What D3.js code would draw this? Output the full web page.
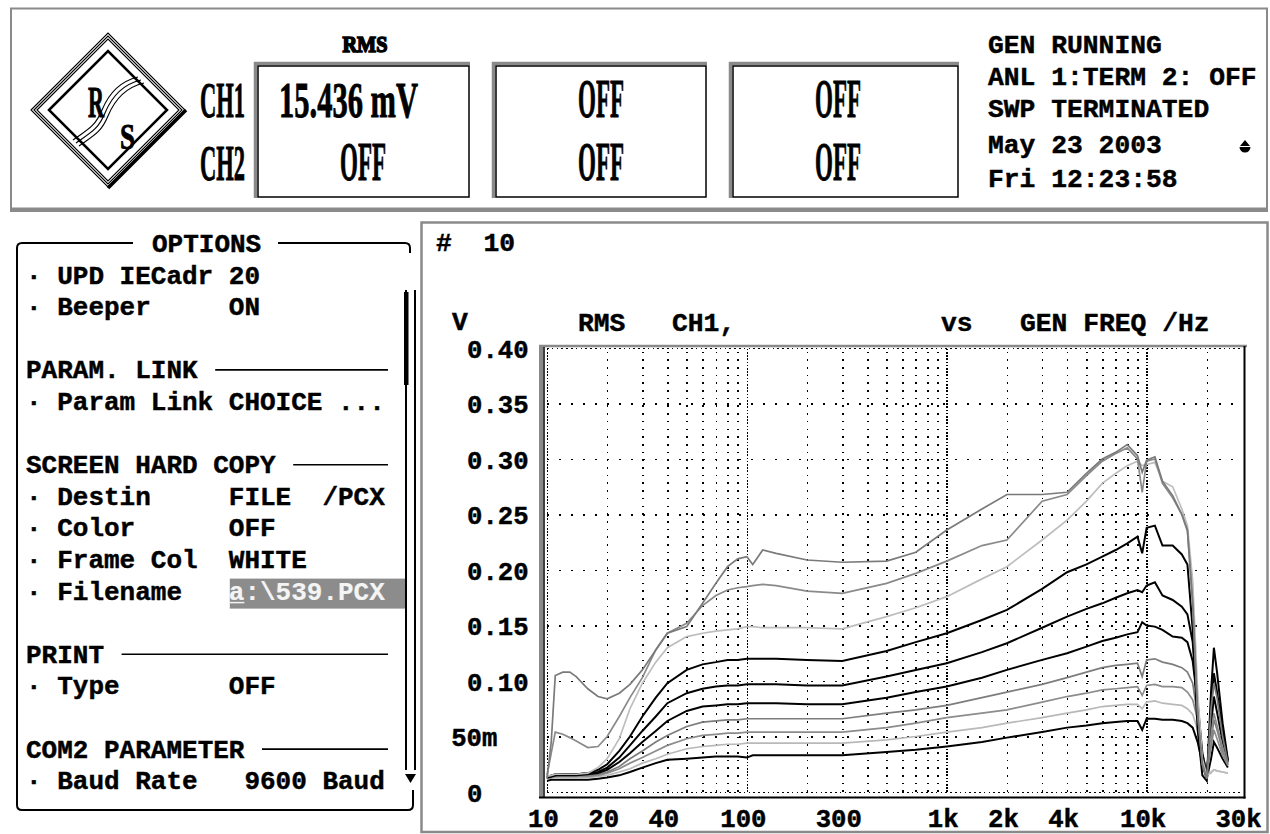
<!DOCTYPE html>
<html>
<head>
<meta charset="utf-8">
<script src="https://cdn.jsdelivr.net/npm/d3@7"></script>
<style>
  html, body { margin: 0; padding: 0; background: #fff; }
  svg { display: block; }
  text { white-space: pre; }
</style>
</head>
<body>
<svg id="screen" width="1270" height="834"></svg>
<script>
// ---------------------------------------------------------------------------
// Sweep data: RMS level of CH1 (V) against generator frequency (Hz),
// ten sweeps at increasing generator level.
// ---------------------------------------------------------------------------
const freqHz = [10, 10.5, 11, 12, 13, 14, 16, 18, 20,
  23, 26, 30, 35, 40, 50, 60, 70, 80, 90,
  100, 107, 120, 140, 200, 300,
  500, 700, 1000, 1500, 2000,
  3000, 4000, 5000, 6000, 7000, 8000, 9000, 9500,
  10000, 11000, 12000, 13500, 15000, 16000, 17000,
  18000, 19000, 20000, 21000, 21700, 22500, 24000, 25500];

const sweep1 = [0.010, 0.011, 0.011, 0.011, 0.011, 0.011, 0.011, 0.012, 0.013,
  0.015, 0.018, 0.022, 0.026, 0.029, 0.030, 0.031, 0.032, 0.032, 0.032,
  0.031, 0.033, 0.033, 0.033, 0.033, 0.033,
  0.036, 0.038, 0.041, 0.045, 0.049,
  0.054, 0.058, 0.060, 0.062, 0.063, 0.064, 0.064, 0.056,
  0.066, 0.066, 0.065, 0.065, 0.064, 0.062, 0.058,
  0.045, 0.026, 0.012, 0.030, 0.045, 0.040, 0.030, 0.022];

const sweep2 = [0.012, 0.013, 0.013, 0.013, 0.013, 0.013, 0.013, 0.014, 0.015,
  0.018, 0.021, 0.026, 0.030, 0.034, 0.039, 0.041, 0.042, 0.043, 0.043,
  0.044, 0.044, 0.044, 0.044, 0.044, 0.044,
  0.047, 0.050, 0.054, 0.058, 0.062,
  0.067, 0.071, 0.074, 0.077, 0.078, 0.079, 0.079, 0.075,
  0.081, 0.082, 0.080, 0.079, 0.078, 0.075, 0.070,
  0.056, 0.030, 0.017, 0.018, 0.020, 0.019, 0.018, 0.017];

const sweep3 = [0.012, 0.013, 0.014, 0.014, 0.014, 0.014, 0.014, 0.015, 0.017,
  0.021, 0.026, 0.031, 0.037, 0.042, 0.048, 0.051, 0.052, 0.053, 0.053,
  0.054, 0.054, 0.054, 0.054, 0.054, 0.054,
  0.058, 0.062, 0.067, 0.071, 0.074,
  0.081, 0.086, 0.089, 0.092, 0.093, 0.094, 0.095, 0.087,
  0.096, 0.097, 0.095, 0.095, 0.094, 0.090, 0.083,
  0.065, 0.035, 0.018, 0.040, 0.056, 0.048, 0.033, 0.024];

const sweep4 = [0.013, 0.014, 0.014, 0.015, 0.015, 0.015, 0.015, 0.016, 0.018,
  0.023, 0.030, 0.037, 0.045, 0.051, 0.059, 0.063, 0.064, 0.065, 0.065,
  0.066, 0.066, 0.066, 0.066, 0.066, 0.066,
  0.071, 0.074, 0.078, 0.085, 0.090,
  0.097, 0.103, 0.108, 0.112, 0.114, 0.115, 0.116, 0.104,
  0.119, 0.120, 0.117, 0.115, 0.112, 0.108, 0.098,
  0.068, 0.035, 0.018, 0.045, 0.065, 0.056, 0.037, 0.025];

const sweep5 = [0.013, 0.014, 0.015, 0.015, 0.015, 0.015, 0.016, 0.017, 0.020,
  0.027, 0.035, 0.045, 0.055, 0.064, 0.073, 0.077, 0.078, 0.079, 0.079,
  0.080, 0.080, 0.080, 0.080, 0.079, 0.079,
  0.085, 0.090, 0.095, 0.103, 0.110,
  0.119, 0.125, 0.131, 0.136, 0.139, 0.142, 0.144, 0.153,
  0.150, 0.149, 0.146, 0.140, 0.139, 0.135, 0.118,
  0.080, 0.035, 0.015, 0.060, 0.086, 0.072, 0.045, 0.027];

const sweep6 = [0.013, 0.014, 0.015, 0.016, 0.016, 0.016, 0.017, 0.018, 0.022,
  0.031, 0.042, 0.055, 0.068, 0.080, 0.089, 0.093, 0.095, 0.096, 0.096,
  0.097, 0.097, 0.097, 0.097, 0.096, 0.096,
  0.104, 0.110, 0.116, 0.126, 0.134,
  0.148, 0.158, 0.165, 0.170, 0.175, 0.179, 0.182, 0.180,
  0.186, 0.189, 0.177, 0.173, 0.167, 0.160, 0.135,
  0.075, 0.025, 0.012, 0.075, 0.107, 0.090, 0.055, 0.028];

const sweep7 = [0.013, 0.015, 0.016, 0.016, 0.016, 0.016, 0.017, 0.020, 0.025,
  0.037, 0.050, 0.068, 0.085, 0.098, 0.110, 0.115, 0.117, 0.119, 0.119,
  0.120, 0.120, 0.120, 0.120, 0.119, 0.118,
  0.127, 0.135, 0.143, 0.155, 0.164,
  0.183, 0.198, 0.205, 0.212, 0.218, 0.224, 0.230, 0.215,
  0.238, 0.240, 0.222, 0.222, 0.214, 0.205, 0.146,
  0.056, 0.015, 0.010, 0.090, 0.130, 0.108, 0.062, 0.029];

const sweep8 = [0.014, 0.015, 0.016, 0.016, 0.016, 0.016, 0.017, 0.022, 0.030,
  0.048, 0.075, 0.098, 0.117, 0.130, 0.140, 0.143, 0.145, 0.146, 0.147,
  0.149, 0.149, 0.148, 0.148, 0.148, 0.147,
  0.158, 0.166, 0.176, 0.192, 0.203,
  0.227, 0.245, 0.262, 0.278, 0.287, 0.294, 0.298, 0.294,
  0.295, 0.297, 0.280, 0.275, 0.255, 0.240, 0.190,
  0.090, 0.030, 0.015, 0.017, 0.020, 0.019, 0.018, 0.017];

const sweep9 = [0.015, 0.035, 0.054, 0.052, 0.049, 0.046, 0.040, 0.041, 0.050,
  0.068, 0.085, 0.103, 0.128, 0.143, 0.152, 0.168, 0.177, 0.182, 0.184,
  0.185, 0.186, 0.187, 0.186, 0.181, 0.179,
  0.188, 0.197, 0.208, 0.222, 0.227,
  0.262, 0.268, 0.285, 0.298, 0.305, 0.310, 0.300, 0.270,
  0.298, 0.300, 0.278, 0.265, 0.250, 0.235, 0.170,
  0.070, 0.025, 0.012, 0.050, 0.071, 0.060, 0.040, 0.024];

const sweep10 = [0.012, 0.045, 0.105, 0.108, 0.108, 0.104, 0.093, 0.086, 0.084,
  0.089, 0.097, 0.110, 0.128, 0.143, 0.149, 0.170, 0.188, 0.203, 0.210,
  0.212, 0.205, 0.218, 0.215, 0.209, 0.207,
  0.208, 0.216, 0.236, 0.255, 0.268,
  0.268, 0.270, 0.287, 0.300, 0.306, 0.313, 0.303, 0.288,
  0.299, 0.302, 0.280, 0.267, 0.250, 0.236, 0.170,
  0.070, 0.025, 0.012, 0.075, 0.098, 0.085, 0.050, 0.026];

const sweeps = [sweep1, sweep2, sweep3, sweep4, sweep5, sweep6, sweep7, sweep8, sweep9, sweep10];

// trace shades (monochrome hard copy)
const sweepShade = ["#000000", "#b9b9b9", "#8c8c8c", "#7d7d7d", "#000000",
                    "#000000", "#000000", "#bdbdbd", "#8a8a8a", "#7a7a7a"];

// axis ticks
const yTickValues = [0, 0.05, 0.10, 0.15, 0.20, 0.25, 0.30, 0.35, 0.40];
const yTickLabels = ["0", "50m", "0.10", "0.15", "0.20", "0.25", "0.30", "0.35", "0.40"];
const xTickValues = [10, 20, 40, 100, 300, 1000, 2000, 4000, 10000, 30000];
const xTickLabels = ["10", "20", "40", "100", "300", "1k", "2k", "4k", "10k", "30k"];

// header readouts
const channelNames = ["CH1", "CH2"];
const ch1Readings = ["15.436 mV", "OFF", "OFF"];
const ch2Readings = ["OFF", "OFF", "OFF"];
const statusLines = ["GEN RUNNING", "ANL 1:TERM 2: OFF", "SWP TERMINATED"];
const clockLines = ["May 23 2003", "Fri 12:23:58"];

// OPTIONS menu (one entry per text row; null = empty row)
const menuRows = [
  { title: "OPTIONS" },
  { label: "UPD IECadr", value: "20" },
  { label: "Beeper", value: "ON" },
  null,
  { section: "PARAM. LINK" },
  { label: "Param Link", value: "CHOICE ..." },
  null,
  { section: "SCREEN HARD COPY" },
  { label: "Destin", value: "FILE  /PCX" },
  { label: "Color", value: "OFF" },
  { label: "Frame Col", value: "WHITE" },
  { label: "Filename", value: "a:\\539.PCX", edit: true },
  null,
  { section: "PRINT" },
  { label: "Type", value: "OFF" },
  null,
  { section: "COM2 PARAMETER" },
  { label: "Baud Rate", value: " 9600 Baud" }
];

// ---------------------------------------------------------------------------
const svg = d3.select("#screen");
const MONO = '"Liberation Mono", "DejaVu Sans Mono", monospace';
const SERIF = '"Liberation Serif", "DejaVu Serif", serif';
const GREY = "#8a8a8a";

function mono(g, x, y, str, cw, anchor) {
  return g.append("text")
    .attr("x", x).attr("y", y)
    .attr("font-family", MONO).attr("font-weight", "bold")
    .attr("font-size", cw / 0.6)
    .attr("text-anchor", anchor || "start")
    .attr("fill", "#000").attr("stroke", "#000").attr("stroke-width", 0.45)
    .text(str);
}

// tall, narrow readout lettering: natural width is measured, then squeezed
function tall(g, x, y, str, width, size, anchor, weight) {
  const t = g.append("text")
    .attr("font-family", SERIF).attr("font-weight", "bold")
    .attr("font-size", size)
    .attr("fill", "#000").attr("stroke", "#000").attr("stroke-width", weight || 0.9)
    .text(str);
  const natural = t.node().getComputedTextLength();
  const x0 = anchor === "middle" ? x - width / 2 : x;
  t.attr("transform", `translate(${x0},${y}) scale(${width / natural},1)`);
  return t;
}

// ---------------------------------------------------------------- header ----
const head = svg.append("g");
head.append("rect").attr("x", 11).attr("y", 8.5).attr("width", 1256).attr("height", 200)
  .attr("fill", "none").attr("stroke", GREY).attr("stroke-width", 2);
head.append("line").attr("x1", 10).attr("x2", 1268).attr("y1", 210).attr("y2", 210)
  .attr("stroke", GREY).attr("stroke-width", 4);

// R&S diamond
const lg = head.append("g");
const cx = 108, cy = 110;
const diamond = r => `M${cx - r},${cy} L${cx},${cy - r} L${cx + r},${cy} L${cx},${cy + r} Z`;
[77, 74, 71].forEach(r => lg.append("path").attr("d", diamond(r))
  .attr("fill", "none").attr("stroke", "#000").attr("stroke-width", 1.1));
lg.append("line").attr("x1", cx + 78).attr("y1", cy).attr("x2", cx).attr("y2", cy + 78)
  .attr("stroke", "#000").attr("stroke-width", 3.5);
lg.append("path").attr("d", diamond(59)).attr("fill", "none")
  .attr("stroke", "#000").attr("stroke-width", 2.5);
[-3, 0, 3].forEach(o => lg.append("path")
  .attr("d", `M${76 + o},${143 + o} C${90 + o},${133 + o} ${98 + o},${130 + o} ${105 + o},${113 + o} S${124 + o},${84 + o} ${141 + o},${80 + o}`)
  .attr("fill", "none").attr("stroke", "#000").attr("stroke-width", 1.1));
tall(lg, 88, 117, "R", 16, 45);
tall(lg, 120, 149, "S", 15, 36);

// readout boxes
const boxes = [{ x: 257, w: 212 }, { x: 495, w: 211 }, { x: 732, w: 226 }];
tall(head, 365, 52, "RMS", 45, 23, "middle", 1.6);
channelNames.forEach((c, i) => tall(head, 200, 117 + i * 63, c, 45, 51));
boxes.forEach((b, i) => {
  head.append("path")
    .attr("d", `M${b.x - 1.5},198 V${63.5} H${b.x + b.w + 1}`)
    .attr("fill", "none").attr("stroke", GREY).attr("stroke-width", 3.5);
  head.append("rect").attr("x", b.x + 1).attr("y", 66).attr("width", b.w - 1).attr("height", 131)
    .attr("fill", "#fff").attr("stroke", "#000").attr("stroke-width", 1.5);
  const v1 = ch1Readings[i];
  if (v1 === "OFF") tall(head, b.x + 106, 117, v1, 46, 55, "middle");
  else tall(head, 279, 117, v1, 139, 51);
  tall(head, b.x + 106, 180, ch2Readings[i], 46, 55, "middle");
});

statusLines.forEach((s, i) => mono(head, 988, 53 + i * 32, s, 15.8));
clockLines.forEach((s, i) => mono(head, 988, 153 + i * 34, s, 15.8));
head.append("path").attr("d", "M1240,146 L1245,140 L1250,146 Z M1239.5,147 A5.5,5.5 0 0 0 1250.5,147 Z")
  .attr("fill", "#000");

// ---------------------------------------------------------- options menu ----
const menu = svg.append("g");
const cw = 15.6, col0 = 26, valCol = 13;
const rowY = i => 252 + i * 31.6;
menu.append("path")
  .attr("d", "M133,243 H22 Q17,243 17,248 V805 Q17,810 22,810 H408 Q413,810 413,805 V790")
  .attr("fill", "none").attr("stroke", "#000").attr("stroke-width", 2);
menu.append("path").attr("d", "M278,243 H405 Q410,243 410,248 V253")
  .attr("fill", "none").attr("stroke", "#000").attr("stroke-width", 2);
// scroll bar
menu.append("line").attr("x1", 406).attr("x2", 406).attr("y1", 290).attr("y2", 770)
  .attr("stroke", "#000").attr("stroke-width", 2);
menu.append("line").attr("x1", 415).attr("x2", 415).attr("y1", 290).attr("y2", 770)
  .attr("stroke", "#000").attr("stroke-width", 2);
menu.append("rect").attr("x", 404).attr("y", 292).attr("width", 4.5).attr("height", 93).attr("fill", "#000");
menu.append("path").attr("d", "M405,774 L416,774 L410.5,783 Z").attr("fill", "#000");

menuRows.forEach((r, i) => {
  if (!r) return;
  const yb = rowY(i);
  if (r.title) {
    mono(menu, 152, yb, r.title, cw);
  } else if (r.section) {
    mono(menu, col0, yb, r.section, cw);
    menu.append("line")
      .attr("x1", col0 + (r.section.length + 1) * cw + 2).attr("x2", 388)
      .attr("y1", yb - 8.5).attr("y2", yb - 8.5)
      .attr("stroke", "#000").attr("stroke-width", 1.6);
  } else {
    mono(menu, col0, yb, "·", cw);
    mono(menu, col0 + 2 * cw, yb, r.label, cw);
    if (r.edit) {
      menu.append("rect").attr("x", col0 + valCol * cw + 1).attr("y", yb - 21)
        .attr("width", 405 - (col0 + valCol * cw + 1)).attr("height", 30).attr("fill", "#8c8c8c");
      mono(menu, col0 + valCol * cw, yb, r.value, cw)
        .attr("fill", "#f4f4f4").attr("stroke", "#f4f4f4").attr("stroke-width", 0.2);
      menu.append("line").attr("x1", col0 + valCol * cw + 1).attr("x2", col0 + (valCol + 1) * cw)
        .attr("y1", yb + 3).attr("y2", yb + 3).attr("stroke", "#f4f4f4").attr("stroke-width", 1.5);
    } else {
      mono(menu, col0 + valCol * cw, yb, r.value, cw);
    }
  }
});

// ----------------------------------------------------------------- graph ----
const pane = svg.append("g");
pane.append("rect").attr("x", 421.5).attr("y", 222.5).attr("width", 846).attr("height", 609.5)
  .attr("fill", "none").attr("stroke", GREY).attr("stroke-width", 2.5);

const P = { left: 547, right: 1242, top: 348, bottom: 792 };
const x = d3.scaleLog().domain([10, 30000]).range([P.left, P.right]);
const y = d3.scaleLinear().domain([0, 0.4]).range([P.bottom, P.top]);

const lcw = 15.8;
mono(pane, 436, 251, "#  10", lcw);
mono(pane, 452, 330, "V", lcw);
mono(pane, 578, 331, "RMS", lcw);
mono(pane, 672, 331, "CH1,", lcw);
mono(pane, 941, 331, "vs", lcw);
mono(pane, 1020, 331, "GEN FREQ /Hz", lcw);

// dotted grid: every 1..9 step of each decade, decade lines denser
const allTicks = x.ticks().filter(f => f > 10 && f < 30000);
const decades = allTicks.filter(f => Math.abs(Math.log10(f) % 1) < 1e-9);
const minors = allTicks.filter(f => !decades.includes(f));
const H = P.bottom - P.top;

function vgrid(vals, dash) {
  const g = pane.append("g").attr("transform", `translate(0,${P.bottom})`)
    .call(d3.axisBottom(x).tickValues(vals).tickSize(-H).tickFormat(""));
  g.select(".domain").remove();
  g.selectAll("line").attr("stroke", "#000").attr("stroke-width", 1.6)
    .attr("stroke-dasharray", dash).attr("shape-rendering", "crispEdges");
}
vgrid(minors, "1.6 6.1");
vgrid(decades.concat([10]), "1.6 1.6");

const hg = pane.append("g").attr("transform", `translate(${P.left},0)`)
  .call(d3.axisRight(y).tickValues(yTickValues.filter(v => v > 0 && v < 0.4))
    .tickSize(P.right - P.left).tickFormat(""));
hg.select(".domain").remove();
hg.selectAll("line").attr("stroke", "#000").attr("stroke-width", 1.6)
  .attr("stroke-dasharray", "1.6 10.4").attr("shape-rendering", "crispEdges");
const eg = pane.append("g").attr("transform", `translate(${P.left},0)`)
  .call(d3.axisRight(y).tickValues([0, 0.4]).tickSize(P.right - P.left).tickFormat(""));
eg.select(".domain").remove();
eg.selectAll("line").attr("stroke", "#000").attr("stroke-width", 1.6)
  .attr("stroke-dasharray", "1.6 3.2").attr("shape-rendering", "crispEdges");

// frame
pane.append("line").attr("x1", 539).attr("x2", 1247).attr("y1", 346).attr("y2", 346)
  .attr("stroke", GREY).attr("stroke-width", 2.5);
pane.append("line").attr("x1", 541).attr("x2", 541).attr("y1", 345).attr("y2", 798)
  .attr("stroke", GREY).attr("stroke-width", 4);
pane.append("line").attr("x1", 544).attr("x2", 544).attr("y1", 347).attr("y2", 797)
  .attr("stroke", "#000").attr("stroke-width", 1.5);
pane.append("line").attr("x1", 539).attr("x2", 1245.5).attr("y1", 797.5).attr("y2", 797.5)
  .attr("stroke", "#000").attr("stroke-width", 2);
pane.append("line").attr("x1", 1244.5).attr("x2", 1244.5).attr("y1", 346).attr("y2", 798.5)
  .attr("stroke", "#000").attr("stroke-width", 2);

// tick labels
const xl = pane.append("g").attr("transform", `translate(0,${P.bottom + 18})`)
  .call(d3.axisBottom(x).tickValues(xTickValues).tickSize(0)
    .tickFormat((d, i) => xTickLabels[i]));
xl.select(".domain").remove();
xl.selectAll("text").attr("y", 17).attr("dy", null).attr("dx", -4)
  .attr("font-family", MONO).attr("font-weight", "bold").attr("font-size", 15.4 / 0.6)
  .attr("fill", "#000").attr("stroke", "#000").attr("stroke-width", 0.45);
xl.attr("font-family", null).attr("font-size", null);

const yl = pane.append("g").attr("transform", `translate(467,0)`)
  .call(d3.axisLeft(y).tickValues(yTickValues).tickSize(0)
    .tickFormat((d, i) => yTickLabels[i]));
yl.select(".domain").remove();
yl.selectAll("text")
  .attr("text-anchor", "start")
  .attr("x", d => yTickLabels[yTickValues.indexOf(d)].endsWith("m") ? -lcw : 0)
  .attr("dy", 9)
  .attr("font-family", MONO).attr("font-weight", "bold").attr("font-size", 15.4 / 0.6)
  .attr("fill", "#000").attr("stroke", "#000").attr("stroke-width", 0.45);
yl.attr("font-family", null).attr("font-size", null);

// sweep traces
const line = d3.line().x(d => x(d[0])).y(d => y(d[1]));
const tr = pane.append("g").attr("fill", "none").attr("stroke-linejoin", "miter");
sweeps.forEach((s, i) => {
  tr.append("path")
    .attr("d", line(freqHz.map((f, k) => [f, s[k]])))
    .attr("stroke", sweepShade[i])
    .attr("stroke-width", sweepShade[i] === "#000000" ? 2 : 1.7);
});
</script>
</body>
</html>
